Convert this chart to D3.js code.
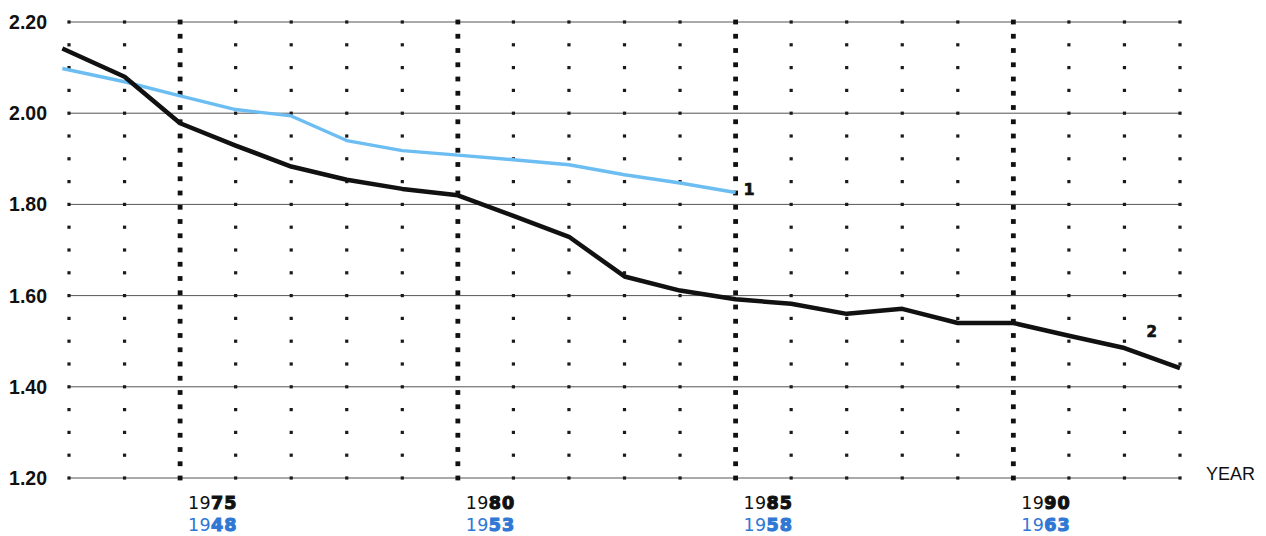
<!DOCTYPE html>
<html>
<head>
<meta charset="utf-8">
<script src="https://cdn.jsdelivr.net/npm/d3@7"></script>
<style>
  html, body { margin: 0; padding: 0; background: #fff; }
  svg { display: block; }
</style>
</head>
<body>
<svg id="chart" width="1266" height="536"></svg>
<script>
// ---- Data ----
const series2Years  = [1972.88, 1974, 1975, 1976, 1977, 1978, 1979, 1980, 1981, 1982, 1983, 1984, 1985, 1986, 1987, 1988, 1989, 1990, 1991, 1992, 1993];
const series2Values = [2.142, 2.08, 1.978, 1.929, 1.883, 1.854, 1.834, 1.82, 1.775, 1.729, 1.642, 1.611, 1.592, 1.582, 1.56, 1.571, 1.54, 1.54, 1.512, 1.485, 1.441];
const series1Years  = [1972.88, 1974, 1975, 1976, 1977, 1978, 1979, 1980, 1981, 1982, 1983, 1984, 1985];
const series1Values = [2.098, 2.069, 2.038, 2.008, 1.994, 1.94, 1.918, 1.908, 1.898, 1.887, 1.865, 1.847, 1.826];
const yTicks = [1.2, 1.4, 1.6, 1.8, 2.0, 2.2];
const majorYears = [1975, 1980, 1985, 1990];
const birthYears = [1948, 1953, 1958, 1963];

// ---- Scales ----
const svg = d3.select("#chart");
const x = d3.scaleLinear().domain([1973, 1993]).range([69, 1180]);
const y = d3.scaleLinear().domain([1.2, 2.2]).range([478, 22]);
const allYears = d3.range(1973, 1994);

// horizontal gridlines
svg.append("g").selectAll("line").data(yTicks).join("line")
  .attr("x1", x(1973)).attr("x2", x(1993))
  .attr("y1", d => y(d)).attr("y2", d => y(d))
  .attr("stroke", "#555").attr("stroke-width", 1);

// small dotted columns
const smallDots = d3.range(0, 21).map(i => 1.2 + i * 0.05);
const gSmall = svg.append("g");
allYears.filter(yr => !majorYears.includes(yr)).forEach(yr => {
  gSmall.selectAll(null).data(smallDots).join("rect")
    .attr("x", x(yr) - 1.6).attr("y", d => y(d) - 1.6)
    .attr("width", 3.2).attr("height", 3.2).attr("fill", "#1a1a1a");
});
// bold dotted columns
const bigDots = d3.range(0, 33).map(i => 1.2 + i / 32);
const gBig = svg.append("g");
majorYears.forEach(yr => {
  gBig.selectAll(null).data(bigDots).join("rect")
    .attr("x", x(yr) - 2.4).attr("y", d => y(d) - 2.4)
    .attr("width", 4.8).attr("height", 4.8).attr("fill", "#111");
});

// Y axis labels
svg.append("g").selectAll("text").data(yTicks).join("text")
  .attr("x", 47).attr("y", d => y(d)).attr("dy", "0.36em")
  .attr("text-anchor", "end")
  .attr("font-family", "'Liberation Sans', Arial, sans-serif")
  .attr("font-weight", "bold").attr("font-size", 19.5)
  .attr("fill", "#111")
  .text(d => d.toFixed(2));

// X axis labels
const xl = svg.append("g").attr("font-family", "'DejaVu Sans', sans-serif").attr("font-size", 17.5);
majorYears.forEach((yr, i) => {
  const t1 = xl.append("text").attr("x", x(yr) + 8).attr("y", 509).attr("fill", "#111");
  t1.append("tspan").attr("letter-spacing", 0.3).text(String(yr).slice(0, 2));
  t1.append("tspan").attr("font-weight", "bold").attr("stroke", "#111").attr("stroke-width", 1.1)
    .attr("letter-spacing", 1).text(String(yr).slice(2));
  const t2 = xl.append("text").attr("x", x(yr) + 8).attr("y", 531).attr("fill", "#2f78d4");
  t2.append("tspan").attr("letter-spacing", 0.3).text(String(birthYears[i]).slice(0, 2));
  t2.append("tspan").attr("font-weight", "bold").attr("stroke", "#2f78d4").attr("stroke-width", 1.1)
    .attr("letter-spacing", 1).text(String(birthYears[i]).slice(2));
});

svg.append("text").attr("x", 1206).attr("y", 480)
  .attr("font-family", "'Liberation Sans', Arial, sans-serif").attr("font-size", 18)
  .attr("fill", "#111").text("YEAR");

// Lines
const line = d3.line().x(d => x(d[0])).y(d => y(d[1]));
svg.append("path").datum(d3.zip(series1Years, series1Values))
  .attr("d", line).attr("fill", "none").attr("stroke", "#6cbdf2")
  .attr("stroke-width", 3.4).attr("stroke-linejoin", "round");
svg.append("path").datum(d3.zip(series2Years, series2Values))
  .attr("d", line).attr("fill", "none").attr("stroke", "#111")
  .attr("stroke-width", 4.5).attr("stroke-linejoin", "round");

// Series labels
const s1 = series1Years.length - 1;
svg.append("text").attr("x", x(series1Years[s1]) + 8).attr("y", y(series1Values[s1]) + 2)
  .attr("font-family", "'DejaVu Sans', sans-serif").attr("font-weight", "bold").attr("font-size", 16)
  .attr("stroke", "#111").attr("stroke-width", 0.6)
  .attr("fill", "#111").text("1");
svg.append("text").attr("x", x(1992) + 22).attr("y", y(1.465) - 20)
  .attr("font-family", "'DejaVu Sans', sans-serif").attr("font-weight", "bold").attr("font-size", 15)
  .attr("stroke", "#111").attr("stroke-width", 0.7)
  .attr("fill", "#111").text("2");
</script>
</body>
</html>
